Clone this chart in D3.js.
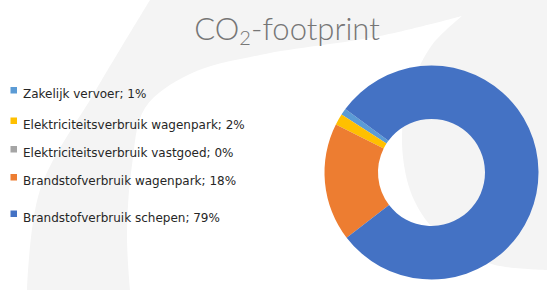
<!DOCTYPE html>
<html>
<head>
<meta charset="utf-8">
<script src="https://cdn.jsdelivr.net/npm/d3@7"></script>
<style>
  html, body { margin: 0; padding: 0; background: #fff; }
  svg { display: block; }
  .legend-label { font-family: "DejaVu Sans", Verdana, sans-serif; font-size: 12px; fill: #262626; }
  .title { font-family: Lato, "Open Sans", sans-serif; font-weight: 300; fill: #767676; }
</style>
</head>
<body>
<svg id="chart" width="547" height="290"></svg>
<script>
"use strict";

// legend order, top to bottom
const categories = [
  "Zakelijk vervoer",
  "Elektriciteitsverbruik wagenpark",
  "Elektriciteitsverbruik vastgoed",
  "Brandstofverbruik wagenpark",
  "Brandstofverbruik schepen"
];
const shares = [1.0, 1.7, 0.0, 17.8, 79.4];
const colors = ["#5B9BD5", "#FFC000", "#A5A5A5", "#ED7D31", "#4472C4"];

const W = 547, H = 290;
const svg = d3.select("#chart");

// faint background swoosh
const line = d3.line().curve(d3.curveCatmullRom);
const outerEdge = [[150, 0], [96, 90], [40, 190], [27, 290]];
svg.append("path")
    .attr("d", line(outerEdge) + `L${W},${H}L${W},0Z`)
    .attr("fill", "#f4f4f4");

const lensTop = [[130, 290], [127, 235], [132, 165], [145, 108], [190, 74], [260, 55], [380, 36], [462, 16]];
const lensRight = [[462, 16], [432, 45], [412, 85], [402, 135], [410, 190], [430, 225], [460, 250], [495, 265], [547, 270]];
svg.append("path")
    .attr("d", line(lensTop) + "L" + line(lensRight).slice(1) + `L${W},${H}Z`)
    .attr("fill", "#fff");

// title
const title = svg.append("text")
    .attr("class", "title")
    .attr("x", 287)
    .attr("y", 40)
    .attr("text-anchor", "middle")
    .style("font-size", "31px");
title.append("tspan").text("CO");
title.append("tspan").text("2").style("font-size", "20px").attr("dy", 5);
title.append("tspan").text("-footprint").attr("dy", -5);

// doughnut
const cx = 431.5, cy = 172.5, rOuter = 107, rInner = 53.5;
const start = 0.851 * 2 * Math.PI;
const pie = d3.pie().sort(null).value(d => d.v)
    .startAngle(start).endAngle(start - 2 * Math.PI);
const arc = d3.arc().innerRadius(rInner).outerRadius(rOuter);
const data = categories.map((name, i) => ({name, v: shares[i], color: colors[i]}));

svg.append("g")
    .attr("transform", `translate(${cx},${cy})`)
  .selectAll("path")
  .data(pie(data))
  .enter()
  .append("path")
    .attr("d", arc)
    .attr("fill", d => d.data.color);

// legend
const rowY = [98, 128.5, 157, 185, 221.5];
const size = 6.5;
const rows = svg.append("g").selectAll("g")
  .data(data)
  .enter()
  .append("g");
rows.append("rect")
    .attr("x", 10.5)
    .attr("y", (_, i) => rowY[i] - 11)
    .attr("width", size)
    .attr("height", size)
    .attr("fill", d => d.color);
rows.append("text")
    .attr("class", "legend-label")
    .attr("x", 23)
    .attr("y", (_, i) => rowY[i])
    .text(d => d.name + "; " + Math.round(d.v) + "%");
</script>
</body>
</html>
